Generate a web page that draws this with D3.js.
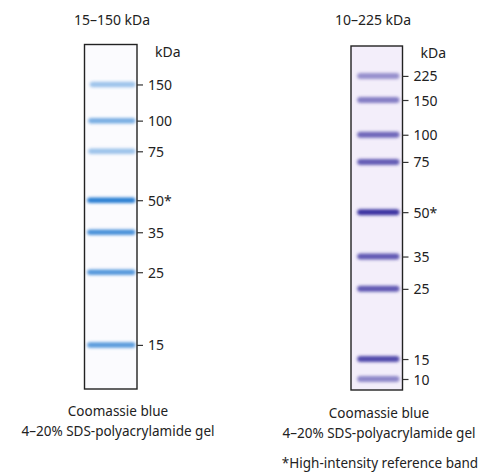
<!DOCTYPE html>
<html><head><meta charset="utf-8">
<script src="https://cdn.jsdelivr.net/npm/d3@7"></script>
<style>
html,body{margin:0;padding:0;background:#fff;}
svg{display:block;}
text{font-family:"Noto Sans",sans-serif;fill:#222;}
</style></head><body>
<svg id="c" width="484" height="473"></svg>
<script>
// Left gel (15–150 kDa): marker sizes, relative migration (Rf), band intensity
const leftLabels = ["150","100","75","50*","35","25","15"];
const leftSizes = [150,100,75,50,35,25,15];
const leftRf = [0.116,0.221,0.310,0.452,0.545,0.661,0.872];
const leftIntensity = [0.45,0.62,0.45,1.0,0.85,0.8,0.78];
// Right gel (10–225 kDa)
const rightLabels = ["225","150","100","75","50*","35","25","15","10"];
const rightSizes = [225,150,100,75,50,35,25,15,10];
const rightRf = [0.087,0.157,0.258,0.337,0.483,0.612,0.706,0.910,0.968];
const rightIntensity = [0.5,0.6,0.72,0.78,1.0,0.8,0.8,0.88,0.55];

const svg = d3.select("#c");
const defs = svg.append("defs");
const f1 = defs.append("filter").attr("id","blurL").attr("x","-10%").attr("y","-200%").attr("width","120%").attr("height","500%");
f1.append("feGaussianBlur").attr("stdDeviation","1.5 1.5");
const f2 = defs.append("filter").attr("id","blurR").attr("x","-10%").attr("y","-200%").attr("width","120%").attr("height","500%");
f2.append("feGaussianBlur").attr("stdDeviation","1.4 1.5");

function gel(cfg){
  const g = svg.append("g");
  const y = d3.scaleLinear().domain([0,1]).range([cfg.top,cfg.bottom]);
  const x = d3.scaleLinear().domain([0,1]).range([cfg.left,cfg.right]);
  const op = d3.scaleLinear().domain([0,1]).range([0,1]);
  g.append("rect").attr("x",x(0)).attr("y",y(0)).attr("width",x(1)-x(0)).attr("height",y(1)-y(0))
    .attr("fill",cfg.bg);
  g.selectAll("rect.band").data(cfg.rf).join("rect").attr("class","band")
    .attr("x",(d,i)=>x(cfg.bandX0[i]!==undefined?cfg.bandX0[i]:cfg.bx0))
    .attr("width",(d,i)=>x(cfg.bx1)-x(cfg.bandX0[i]!==undefined?cfg.bandX0[i]:cfg.bx0))
    .attr("y",d=>y(d)-cfg.bh/2).attr("height",cfg.bh)
    .attr("rx",cfg.bh/2)
    .attr("fill",cfg.color)
    .attr("opacity",(d,i)=>op(cfg.intensity[i]))
    .attr("filter",cfg.filter);
  g.append("rect").attr("x",x(0)).attr("y",y(0)).attr("width",x(1)-x(0)).attr("height",y(1)-y(0))
    .attr("fill","none").attr("stroke","#222").attr("stroke-width",1.4);
  const axis = d3.axisRight(y).tickValues(cfg.rf).tickSize(6).tickPadding(5)
    .tickFormat((d,i)=>cfg.labels[i]);
  const ag = g.append("g").attr("transform",`translate(${x(1)},0)`).call(axis);
  ag.select(".domain").remove();
  ag.selectAll(".tick line").attr("stroke","#333").attr("stroke-width",1.2);
  ag.selectAll(".tick text").style("font-size","14px").attr("fill","#222").attr("dy","0.36em");
  g.append("text").attr("x",x(1)+18).attr("y",cfg.top+12).style("font-size","14px").text("kDa");
  g.append("text").attr("x",cfg.titleX).attr("y",25).attr("text-anchor","middle").style("font-size","14px").text(cfg.title);
  g.append("text").attr("x",cfg.capX).attr("y",cfg.capY).attr("text-anchor","middle").style("font-size","13.5px").text("Coomassie blue");
  g.append("text").attr("x",cfg.capX).attr("y",cfg.capY+20).attr("text-anchor","middle").style("font-size","13.5px").text("4–20% SDS-polyacrylamide gel");
}

gel({left:84.5,right:137,top:44.5,bottom:389,rf:leftRf,labels:leftLabels,intensity:leftIntensity,
  color:"#2a7fd3",bg:"#fbfbfe",bh:5.5,bx0:0.05,bx1:0.97,bandX0:[0.1,0.07,0.07],filter:"url(#blurL)",
  title:"15–150 kDa",titleX:112,capX:118,capY:416});
gel({left:351,right:402.5,top:46,bottom:390,rf:rightRf,labels:rightLabels,intensity:rightIntensity,
  color:"#3a32a0",bg:"#f3eefa",bh:6,bx0:0.12,bx1:0.94,bandX0:[],filter:"url(#blurR)",
  title:"10–225 kDa",titleX:373,capX:379,capY:418});

svg.append("text").attr("x",380).attr("y",468).attr("text-anchor","middle").style("font-size","13.5px").text("*High-intensity reference band");
</script></body></html>
